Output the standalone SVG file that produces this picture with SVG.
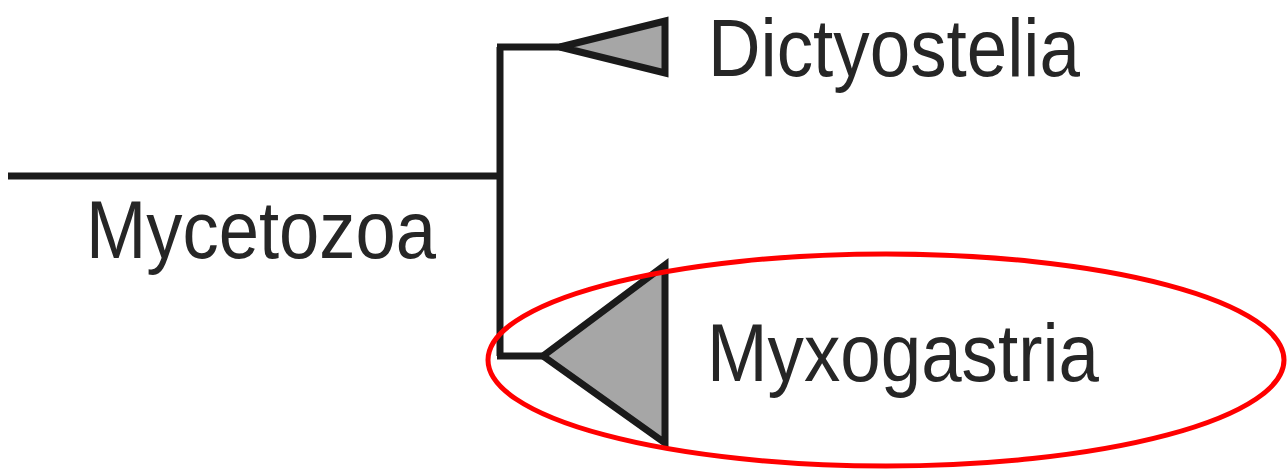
<svg xmlns="http://www.w3.org/2000/svg" width="1287" height="472" viewBox="0 0 1287 472">
  <style>
    .branch { fill: none; stroke: #1a1a1a; stroke-width: 7; stroke-linejoin: miter; stroke-linecap: butt; }
    .clade { fill: #a6a6a6; stroke: #1a1a1a; stroke-width: 7; stroke-linejoin: miter; }
    .label { font-family: "Liberation Sans", Arial, sans-serif; font-size: 81px; fill: #262626; }
    .highlight { fill: none; stroke: #ff0000; stroke-width: 5; }
  </style>
  <rect width="1287" height="472" fill="#ffffff"/>

  <!-- tree branches -->
  <g id="connectors">
    <path class="branch" d="M8 176 H500"/>
    <path class="branch" d="M500 47 V356"/>
    <path class="branch" d="M497 47 H562"/>
    <path class="branch" d="M497 356 H545"/>
  </g>

  <g id="mycetozoa">
    <text class="label" x="86" y="258" textLength="350" lengthAdjust="spacingAndGlyphs">Mycetozoa</text>
  </g>

  <g id="dictyostelia">
    <polygon class="clade" points="560,47 665,21 665,73"/>
    <text class="label" x="708" y="76" textLength="372" lengthAdjust="spacingAndGlyphs">Dictyostelia</text>
  </g>

  <g id="myxogastria">
    <polygon class="clade" points="543,356 665,265 665,443"/>
    <text class="label" x="707" y="381" textLength="392" lengthAdjust="spacingAndGlyphs">Myxogastria</text>
  </g>

  <!-- emphasis ring around the Myxogastria clade -->
  <ellipse class="highlight" cx="886" cy="360" rx="398" ry="106"/>
</svg>
